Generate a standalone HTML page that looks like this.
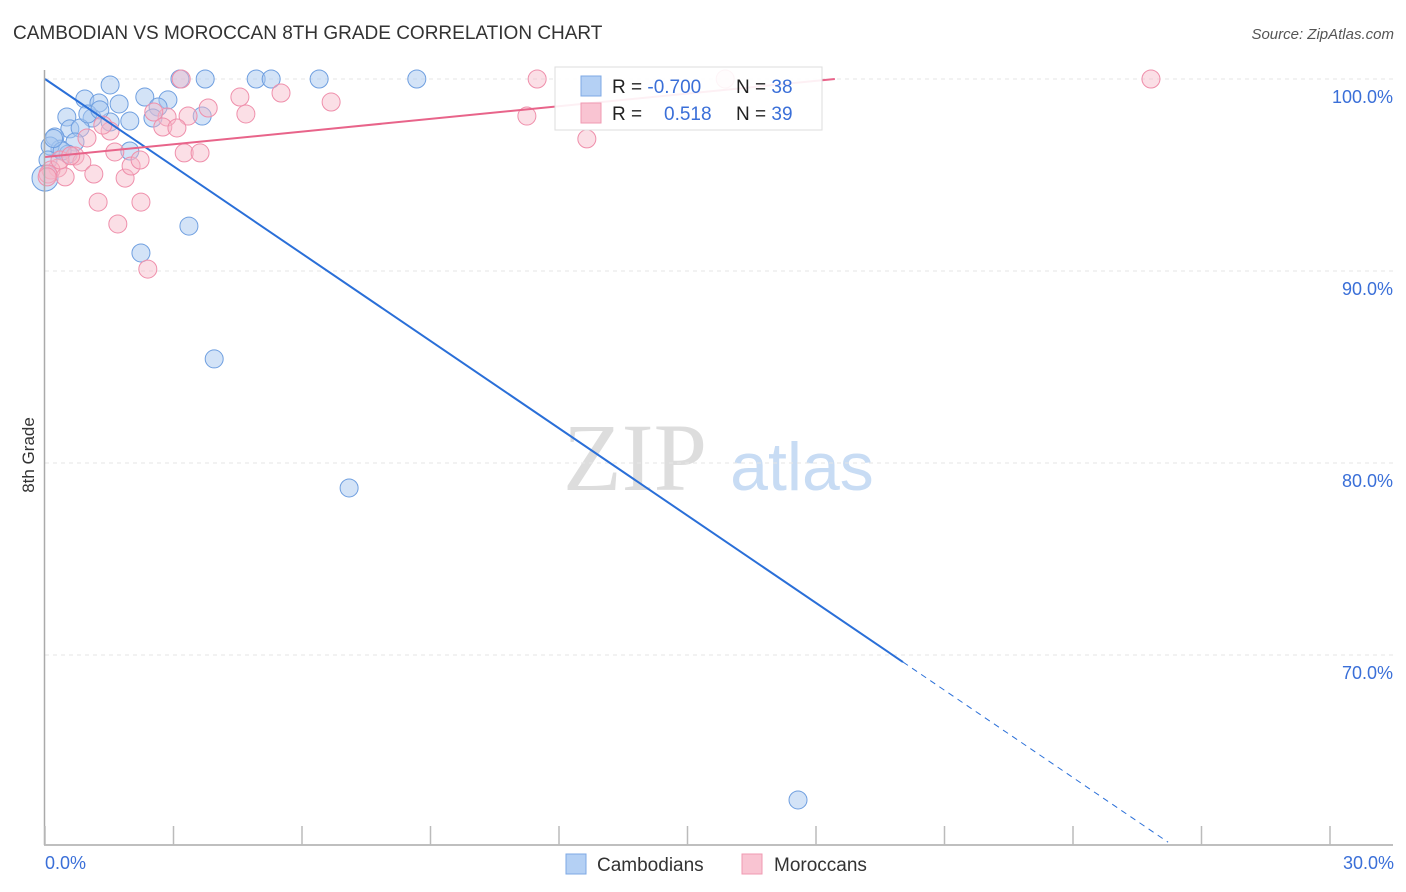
<!DOCTYPE html>
<html><head><meta charset="utf-8"><style>
body{margin:0;background:#fff;font-family:"Liberation Sans",sans-serif;}
svg{display:block}
</style></head><body>
<svg id="chart" width="1406" height="892">
<text x="13" y="39" font-size="19" fill="#333">CAMBODIAN VS MOROCCAN 8TH GRADE CORRELATION CHART</text>
<text x="1394" y="39" font-size="15" fill="#555" font-style="italic" text-anchor="end">Source: ZipAtlas.com</text>
<text x="635" y="490" font-size="96" fill="#ddd" font-family="Liberation Serif,serif" text-anchor="middle">ZIP</text>
<text x="802" y="490" font-size="68" fill="#c8dcf4" text-anchor="middle">atlas</text>
<g id="grid"></g>
<g id="marks"></g>
<g id="lines"></g>
<line x1="44.5" y1="70" x2="44.5" y2="845" stroke="#aaa" stroke-width="1.5"/>
<line x1="44" y1="845" x2="1393" y2="845" stroke="#aaa" stroke-width="1.5"/>
<g id="ticks"></g>
<text x="34" y="455" font-size="17" fill="#333" text-anchor="middle" transform="rotate(-90 34 455)">8th Grade</text>
<text x="45" y="869" font-size="18" fill="#3a6fd8">0.0%</text>
<text x="1394" y="869" font-size="18" fill="#3a6fd8" text-anchor="end">30.0%</text>
<g>
<rect x="555" y="67" width="267" height="63" fill="#fff" fill-opacity="0.9" stroke="#ddd"/>
<rect x="581" y="76" width="20" height="20" fill="#b4d0f4" stroke="#7ea8e4"/>
<rect x="581" y="103" width="20" height="20" fill="#f9c4d2" stroke="#f09ab2"/>
<text x="612" y="93" font-size="19" fill="#222">R = <tspan fill="#3a6fd8">-0.700</tspan></text>
<text x="736" y="93" font-size="19" fill="#222">N = <tspan fill="#3a6fd8">38</tspan></text>
<text x="612" y="120" font-size="19" fill="#222">R = <tspan fill="#3a6fd8" x="664">0.518</tspan></text>
<text x="736" y="120" font-size="19" fill="#222">N = <tspan fill="#3a6fd8">39</tspan></text>
</g>
<g>
<rect x="566" y="854" width="20" height="20" fill="#b4d0f4" stroke="#7ea8e4"/>
<text x="597" y="871" font-size="19" fill="#333">Cambodians</text>
<rect x="742" y="854" width="20" height="20" fill="#f9c4d2" stroke="#f09ab2"/>
<text x="774" y="871" font-size="19" fill="#333">Moroccans</text>
</g>
</svg>
<script>
const yTicks=[100,90,80,70];
const yTickLabels=["100.0%","90.0%","80.0%","70.0%"];
const xTicks=[0,3,6,9,12,15,18,21,24,27,30];
const cambX=[1.52,3.15,3.74,4.93,5.28,6.40,8.68,0.93,2.33,2.87,1.26,1.73,2.64,0.51,1.10,1.98,2.52,3.67,1.52,0.58,0.82,0.23,0.70,0.35,0.12,1.98,0.54,0.07,0,3.36,2.24,3.95,7.10,17.58,1.00,0.40,1.28,0.2];
const cambY=[99.69,100,100,100,100,100,100,98.96,99.06,98.91,98.75,98.70,98.54,98.02,97.97,97.81,97.97,98.07,97.76,97.40,97.45,96.98,96.72,96.35,96.51,96.25,96.09,95.78,94.84,92.34,90.94,85.42,78.70,62.45,98.18,96.25,98.39,96.9];
const morX=[3.18,11.49,15.88,25.82,4.55,5.51,6.68,3.81,4.69,2.85,3.34,2.54,2.75,3.08,11.25,12.65,0.98,1.52,1.35,1.63,0.70,0.86,0.30,0.14,0.07,1.14,1.87,2.01,3.25,3.62,1.24,2.24,1.70,2.40,0.47,0.35,2.22,0.05,0.6];
const morY=[100,100,100,100,99.06,99.27,98.80,98.49,98.18,98.02,98.07,98.28,97.50,97.45,98.07,96.88,96.93,97.29,97.60,96.20,95.99,95.68,95.36,95.26,95.05,95.05,94.84,95.47,96.15,96.15,93.59,93.59,92.45,90.10,94.90,95.78,95.78,94.9,96.0];
const cambLine={x0:0,y0:100,slope:-1.516,solidEnd:20.03,dashEnd:26.22};
const morLine={x0:0,y0:95.94,slope:0.2202,end:18.44};
const sx=v=>45+v*1285/30, sy=v=>79+(100-v)*19.2;
const NS="http://www.w3.org/2000/svg";
function mk(tag,attrs,parent){const e=document.createElementNS(NS,tag);for(const k in attrs)e.setAttribute(k,attrs[k]);document.getElementById(parent).appendChild(e);return e;}
yTicks.forEach((t,i)=>{
 const g=mk('line',{x1:45,x2:1393,y1:sy(t),y2:sy(t),stroke:'#e6e6e6','stroke-dasharray':'4,4'},'grid');
 
 
 const l=mk('text',{x:1393,y:sy(t)+24,'font-size':18,fill:'#3a6fd8','text-anchor':'end'},'grid');
 l.textContent=yTickLabels[i];
 
 
});
xTicks.forEach(t=>{
 const e=mk('line',{x1:sx(t),x2:sx(t),y1:826,y2:845,stroke:'#bbb','stroke-width':1.5},'ticks');
 
 
});
cambX.forEach((x,i)=>{
 const c=mk('circle',{cx:sx(x),cy:sy(cambY[i]),r:(x===0?13:9),fill:'#a8c8f0','fill-opacity':0.5,stroke:'#6f9fe0','stroke-width':1},'marks');
 
 
});
morX.forEach((x,i)=>{
 const c=mk('circle',{cx:sx(x),cy:sy(morY[i]),r:9,fill:'#f7b8c8','fill-opacity':0.45,stroke:'#ef8fab','stroke-width':1},'marks');
 
 
});
const cy=x=>cambLine.y0+cambLine.slope*x;
const l1=mk('line',{x1:sx(0),y1:sy(cy(0)),x2:sx(cambLine.solidEnd),y2:sy(cy(cambLine.solidEnd)),stroke:'#2a6fd8','stroke-width':2},'lines');


const l2=mk('line',{x1:sx(cambLine.solidEnd),y1:sy(cy(cambLine.solidEnd)),x2:sx(cambLine.dashEnd),y2:sy(cy(cambLine.dashEnd)),stroke:'#2a6fd8','stroke-width':1,'stroke-dasharray':'6,5'},'lines');


const my=x=>morLine.y0+morLine.slope*x;
const l3=mk('line',{x1:sx(0),y1:sy(my(0)),x2:sx(morLine.end),y2:sy(my(morLine.end)),stroke:'#e8648a','stroke-width':2},'lines');


</script>
</body></html>
